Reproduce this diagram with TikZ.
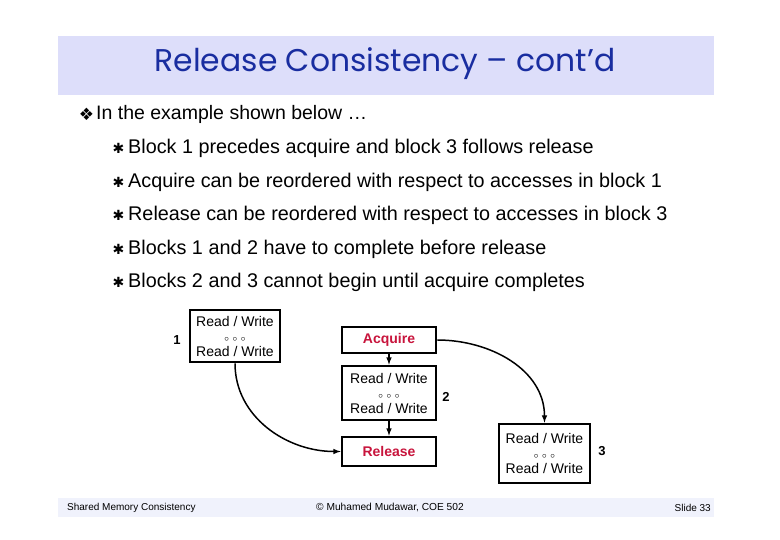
\documentclass[tikz,border=0pt]{standalone}
\usepackage{fontspec}
\setmainfont{Liberation Sans}
\newfontfamily\symfont{DejaVu Sans}
\newfontfamily\titlefont{Poppins}
\usepackage{xcolor}
\usepackage{tikz}
\usetikzlibrary{calc, positioning}

\definecolor{titleband}{RGB}{221,222,250}
\definecolor{footband}{RGB}{240,242,252}
\definecolor{titleblue}{RGB}{25,45,160}
\definecolor{syncred}{RGB}{200,20,60}

\newcommand{\rwtext}{Read / Write\\[1pt]{\fontsize{9}{10}\selectfont$\circ\,\circ\,\circ$}\\[1pt]Read / Write}

\tikzset{
    rwbox/.style={draw, line width=2.7pt, fill=white, align=center,
        font=\fontsize{14}{14}\selectfont, inner sep=3pt},
    syncbox/.style={draw, line width=2.7pt, fill=white, minimum width=94pt,
        minimum height=26pt, font=\bfseries\fontsize{14}{16}\selectfont, text=syncred},
    blklabel/.style={font=\bfseries\fontsize{13}{16}\selectfont}
}

\begin{document}
\begin{tikzpicture}[>=latex, x=1pt, y=-1pt]
    \useasboundingbox (0,0) rectangle (780,540);
    \fill[white] (0,0) rectangle (780,540);

    % Bandeau du titre
    \fill[titleband] (58,36) rectangle (714,95);
    \node[text=titleblue, font=\titlefont\fontsize{31.4}{36}\selectfont] (title) at (385,64)
        {Release Consistency – cont’d};

    % Puce principale
    \node[font=\symfont\fontsize{17}{20}\selectfont, inner sep=0pt] (bullet) at (86.5,114) {❖};
    \node[anchor=west, font=\fontsize{19.5}{24}\selectfont, inner sep=0pt] (intro) at (96,114)
        {In the example shown below \dots};

    % Sous-puces
    \foreach \y/\txt in {148/{Block 1 precedes acquire and block 3 follows release},
                         182/{Acquire can be reordered with respect to accesses in block 1},
                         215/{Release can be reordered with respect to accesses in block 3},
                         249/{Blocks 1 and 2 have to complete before release},
                         282/{Blocks 2 and 3 cannot begin until acquire completes}} {
        \node[font=\symfont\fontsize{14}{16}\selectfont, inner sep=0pt] at (118.5,\y) {✱};
        \node[anchor=west, font=\fontsize{19.8}{24}\selectfont, inner sep=0pt] at (128,\y) {\txt};
    }

    % Blocs
    \node[rwbox, minimum width=90pt, minimum height=52pt] (blk1) at (235,336) {\rwtext};
    \node[blklabel] (lbl1) at (177,340) {1};

    \node[syncbox] (acquire) at (389,340) {Acquire};
    \node[rwbox, minimum width=94pt, minimum height=54pt] (blk2) at (389,393) {\rwtext};
    \node[blklabel] (lbl2) at (446,397) {2};

    \node[syncbox, minimum height=29pt] (release) at (389,451.5) {Release};

    \node[rwbox, minimum width=91pt, minimum height=59pt] (blk3) at (544.5,453.5) {\rwtext};
    \node[blklabel] (lbl3) at (602,451) {3};

    % Liaisons
    \draw[->, line width=1.5pt] (acquire) -- (blk2);
    \draw[->, line width=1.5pt] (blk2) -- (release);
    \draw[->, line width=1.5pt] (blk1.south) to[out=-90, in=180] (release.west);
    \draw[->, line width=1.5pt] (acquire.east) to[out=0, in=90] (blk3.north);

    % Pied de page
    \fill[footband] (58,498) rectangle (714,517);
    \node[anchor=west, font=\fontsize{10}{11}\selectfont, inner sep=0pt] (foot1) at (67,507.5)
        {Shared Memory Consistency};
    \node[font=\fontsize{10.2}{11}\selectfont, inner sep=0pt] (foot2) at (390,507.5)
        {\copyright{} Muhamed Mudawar, COE 502};
    \node[anchor=east, font=\fontsize{10}{11}\selectfont, inner sep=0pt] (foot3) at (711,507.5)
        {Slide 33};
\end{tikzpicture}
\end{document}
